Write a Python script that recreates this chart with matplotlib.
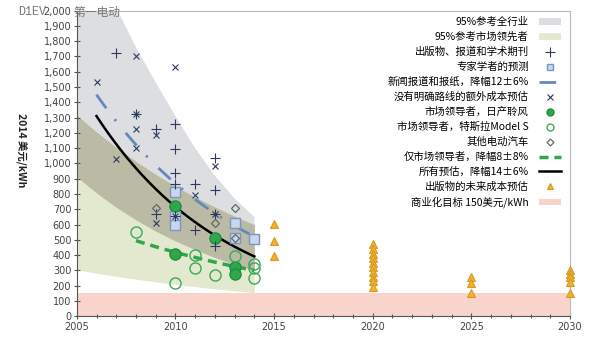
import numpy as np
import matplotlib
matplotlib.use("Agg")
import matplotlib.pyplot as plt
from matplotlib.lines import Line2D
from matplotlib.patches import Patch
from matplotlib.ticker import FuncFormatter, MultipleLocator

plt.rcParams['font.family'] = ['DejaVu Sans', 'Noto Sans CJK SC']
cjk = ['Noto Sans CJK SC', 'DejaVu Sans']

# 95% bands, read at each year 2005-2014
band_years = [2005, 2006, 2007, 2008, 2009, 2010, 2011, 2012, 2013, 2014]
all_hi = [2600, 2300, 2020, 1760, 1530, 1310, 1100, 920, 770, 650]
all_lo = [913, 807, 713, 631, 557, 493, 436, 385, 340, 300]
lead_hi = [1316, 1206, 1105, 1013, 929, 851, 780, 715, 655, 600]
lead_lo = [304, 282, 262, 243, 226, 209, 194, 180, 167, 155]

# publications, reports and journals
plus_x = [2007, 2008, 2009, 2010, 2010, 2010, 2010, 2010, 2011, 2011, 2012, 2012, 2012, 2012, 2009]
plus_y = [1720, 1325, 1225, 1255, 1094, 937, 865, 655, 868, 568, 1036, 825, 670, 462, 668]

# additional estimates without a clear route
cross_x = [2006, 2008, 2010, 2008, 2008, 2009, 2008, 2007, 2012, 2011, 2012, 2009, 2010]
cross_y = [1533, 1703, 1631, 1325, 1225, 1188, 1103, 1029, 985, 795, 668, 610, 655]

# expert forecasts
square_x = [2010, 2010, 2010, 2013, 2013, 2014]
square_y = [815, 655, 600, 612, 515, 505]

# other EVs
diamond_x = [2009, 2012, 2013, 2013]
diamond_y = [712, 612, 712, 515]

# Nissan Leaf
leaf_x = [2010, 2010, 2012, 2013, 2013]
leaf_y = [725, 410, 515, 323, 278]

# Tesla Model S
tesla_x = [2008, 2010, 2011, 2011, 2012, 2013, 2014, 2014, 2014]
tesla_y = [553, 218, 400, 318, 272, 398, 343, 318, 252]

# future cost estimates in publications
future_x = [2015, 2015, 2015,
            2020, 2020, 2020, 2020, 2020, 2020, 2020, 2020, 2020, 2020,
            2025, 2025, 2025,
            2030, 2030, 2030, 2030, 2030]
future_y = [605, 492, 395,
            470, 440, 410, 380, 350, 320, 290, 260, 230, 195,
            260, 220, 155,
            305, 280, 255, 225, 155]

# fitted trends: (start year, start value, end year, annual decline)
news_fit = (2006, 1450, 2014, 0.12)
lead_fit = (2008, 495, 2014, 0.08)
all_fit = (2006, 1310, 2014, 0.14)

target = 150


def trend(fit):
    y0, v0, y1, rate = fit
    t = np.linspace(y0, y1, 60)
    return t, v0 * (1 - rate) ** (t - y0)


fig = plt.figure(figsize=(6, 3.42), dpi=100)
ax = fig.add_axes([0.128, 0.075, 0.822, 0.894])

c_gray = '#dcdee1'
c_green = '#e3e9cf'
c_overlap = '#bbbaa5'
c_pink = '#f9d4cb'

ax.axhspan(0, target, color=c_pink, lw=0, zorder=1)
ax.fill_between(band_years, all_lo, all_hi, color=c_gray, lw=0, zorder=1)
ax.fill_between(band_years, lead_lo, lead_hi, color=c_green, lw=0, zorder=1)
ax.fill_between(band_years, np.maximum(all_lo, lead_lo), np.minimum(all_hi, lead_hi),
                color=c_overlap, lw=0, zorder=1)

t, v = trend(news_fit)
news_line, = ax.plot(t, v, color='#6688bb', lw=2, zorder=3)
news_line.set_dashes((6, 5, 0.8, 5.5))
t, v = trend(lead_fit)
lead_line, = ax.plot(t, v, color='#2ea84a', lw=2.5, zorder=3)
lead_line.set_dashes((2.6, 1.7))
t, v = trend(all_fit)
ax.plot(t, v, color='black', lw=1.8, zorder=3)

navy = '#2c3a63'
sq_kw = dict(ls='none', marker='s', ms=7, mfc='#c9d7ec', mec='#7d93c0', mew=1)
ax.plot(square_x, square_y, zorder=4, **sq_kw)
pl_kw = dict(ls='none', marker='+', ms=7, mec=navy, mew=0.8)
ax.plot(plus_x, plus_y, zorder=5, **pl_kw)
cr_kw = dict(ls='none', marker='x', ms=5, mec=navy, mew=0.8)
ax.plot(cross_x, cross_y, zorder=5, **cr_kw)
di_kw = dict(ls='none', marker='D', ms=4.5, mfc='none', mec='#666666', mew=0.9)
ax.plot(diamond_x, diamond_y, zorder=5, **di_kw)
lf_kw = dict(ls='none', marker='o', ms=8, mfc='#2ea84a', mec='#1f8f3c', mew=1)
ax.plot(leaf_x, leaf_y, zorder=4, **lf_kw)
ts_kw = dict(ls='none', marker='o', ms=8, mfc='none', mec='#3aa957', mew=1)
ax.plot(tesla_x, tesla_y, zorder=4, **ts_kw)
tr_kw = dict(ls='none', marker='^', ms=6, mfc='#f0b232', mec='#d99a1e', mew=0.8)
ax.plot(future_x, future_y, zorder=4, clip_on=False, **tr_kw)

ax.set_xlim(2005, 2030)
ax.set_ylim(0, 2000)
ax.xaxis.set_major_locator(MultipleLocator(5))
ax.xaxis.set_minor_locator(MultipleLocator(1))
ax.yaxis.set_major_locator(MultipleLocator(100))
ax.yaxis.set_major_formatter(FuncFormatter(lambda x, p: '{:,.0f}'.format(x)))
ax.tick_params(axis='both', which='both', direction='inout', labelsize=7,
               labelcolor='#444444', color='#555555', width=0.8)
ax.tick_params(axis='both', which='major', length=4, pad=2)
ax.tick_params(axis='x', which='minor', length=3)
for s in ['left', 'bottom']:
    ax.spines[s].set_color('#555555')
    ax.spines[s].set_linewidth(0.8)
for s in ['top', 'right']:
    ax.spines[s].set_color('#bbbbbb')
    ax.spines[s].set_linewidth(0.8)

ax.text(-0.112, 0.545, '2014 美元/kWh', transform=ax.transAxes, rotation=270,
        ha='center', va='center', fontsize=7.5, fontweight='bold', color='#222222',
        family=cjk)

handles = [
    Patch(facecolor=c_gray, edgecolor='none'),
    Patch(facecolor=c_green, edgecolor='none'),
    Line2D([], [], **pl_kw),
    Line2D([], [], **dict(sq_kw, ms=5)),
    Line2D([], [], color='#6688bb', lw=2, dashes=(6, 5, 0.8, 5.5)),
    Line2D([], [], **cr_kw),
    Line2D([], [], **dict(lf_kw, ms=5)),
    Line2D([], [], **dict(ts_kw, ms=5)),
    Line2D([], [], **dict(di_kw, ms=3.5)),
    Line2D([], [], color='#2ea84a', lw=2.5, dashes=(2.6, 1.7)),
    Line2D([], [], color='black', lw=1.8),
    Line2D([], [], **dict(tr_kw, ms=5)),
    Patch(facecolor=c_pink, edgecolor='none'),
]
labels = [
    '95%参考全行业',
    '95%参考市场领先者',
    '出版物、报道和学术期刊',
    '专家学者的预测',
    '新闻报道和报纸，降幅12±6%',
    '没有明确路线的额外成本预估',
    '市场领导者，日产聆风',
    '市场领导者，特斯拉Model S',
    '其他电动汽车',
    '仅市场领导者，降幅8±8%',
    '所有预估，降幅14±6%',
    '出版物的未来成本预估',
    '商业化目标 150美元/kWh',
]
ax.legend(handles, labels, loc='upper right', bbox_to_anchor=(561 / 600, 1 - 17 / 342),
          bbox_transform=fig.transFigure, frameon=False, markerfirst=False,
          prop={'family': cjk, 'size': 7.5}, handlelength=2.1, handleheight=0.6,
          handletextpad=1.0, labelspacing=0.46, borderpad=0, borderaxespad=0)

fig.text(18 / 600, 1 - 12 / 342, 'D1EV', family='Liberation Mono', fontsize=8.5,
         color='#777777', va='center', ha='left')
fig.text(73 / 600, 1 - 12 / 342, '第一电动', family=cjk, fontsize=8.5,
         color='#777777', va='center', ha='left')

fig.savefig('out.png', dpi=100)
